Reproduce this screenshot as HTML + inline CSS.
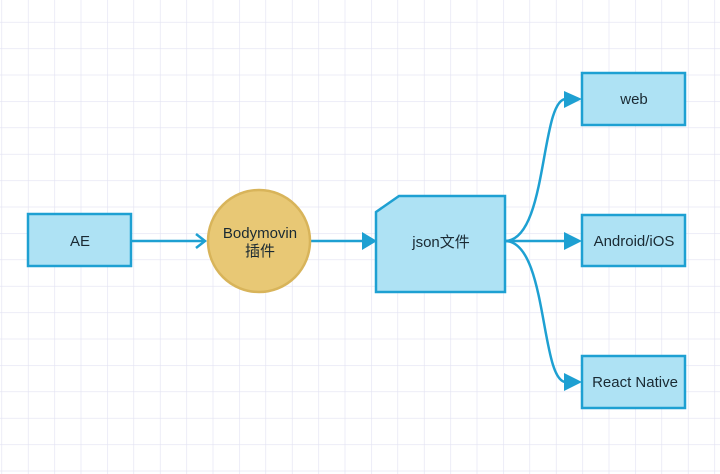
<!DOCTYPE html>
<html><head><meta charset="utf-8"><style>
html,body{margin:0;padding:0;background:#fff}
svg{display:block}
text{font-family:"Liberation Sans","Noto Sans CJK SC",sans-serif;font-size:15px;fill:#1a2a33}
</style></head><body>
<svg width="720" height="474" viewBox="0 0 720 474" xmlns="http://www.w3.org/2000/svg">
<defs>
<pattern id="g" x="1.5" y="-4.5" width="26.4" height="26.4" patternUnits="userSpaceOnUse">
<path d="M0 0V26.4M0 0H26.4" stroke="#e2e2f2" stroke-width="1.2" fill="none"/>
</pattern>
</defs>
<rect width="720" height="474" fill="url(#g)"/>
<g stroke="#1ea0d2" stroke-width="2.5" fill="none">
<path d="M131 241H204"/>
<path d="M196 234L205 241L196 248"/>
<path d="M311 241H364"/>
<path d="M505 241C548 241 540 99 566 99"/>
<path d="M505 241H566"/>
<path d="M505 241C548 241 540 382 566 382"/>
</g>
<g fill="#1ea0d2">
<path d="M362 232L377 241L362 250Z"/>
<path d="M564 91L582 99L564 108Z"/>
<path d="M564 232L582 241L564 250Z"/>
<path d="M564 373L582 382L564 391Z"/>
</g>
<g fill="#aee2f4" stroke="#1ea0d2" stroke-width="2.5">
<rect x="28" y="214" width="103" height="52"/>
<path d="M376 212L399 196H505V292H376Z"/>
<rect x="582" y="73" width="103" height="52"/>
<rect x="582" y="215" width="103" height="51"/>
<rect x="582" y="356" width="103" height="52"/>
</g>
<circle cx="259" cy="241" r="51" fill="#e8c875" stroke="#d8b45a" stroke-width="2.5"/>
<g text-anchor="middle">
<text x="80" y="246">AE</text>
<text x="260" y="238">Bodymovin</text>
<text x="260" y="256">插件</text>
<text x="441" y="247">json文件</text>
<text x="634" y="104">web</text>
<text x="634" y="246">Android/iOS</text>
<text x="635" y="387">React Native</text>
</g>
</svg>
</body></html>
